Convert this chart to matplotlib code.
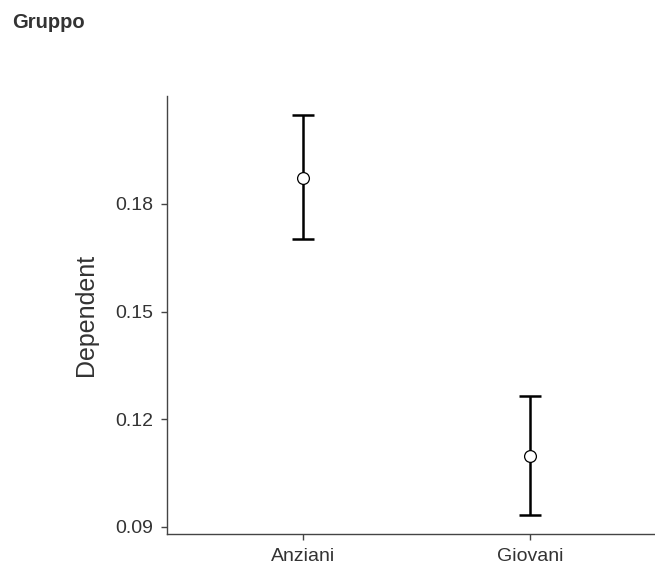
import numpy as np
import matplotlib.pyplot as plt

plt.rcParams['font.family'] = ['Liberation Sans', 'DejaVu Sans']

# group means with 95% CI bounds
groups = ['Anziani', 'Giovani']
means = [0.1873, 0.1098]
ci_low = [0.1703, 0.0933]
ci_high = [0.2047, 0.1264]
yticks = [0.09, 0.12, 0.15, 0.18]

fig = plt.figure(figsize=(6.55, 5.69), dpi=100)
ax = fig.add_axes([0.255, 0.0615, 0.745, 0.770])

x = np.arange(1, len(groups) + 1)
m = np.array(means)
yerr = np.array([m - np.array(ci_low), np.array(ci_high) - m])

ax.errorbar(x, m, yerr=yerr, fmt='none', ecolor='black', elinewidth=1.8,
            capsize=8, capthick=1.8, zorder=2)
ax.plot(x, m, 'o', markersize=8.5, markerfacecolor='white',
        markeredgecolor='black', markeredgewidth=0.9, zorder=3)

ax.set_xlim(0.4, 2.55)
ax.set_ylim(0.088, 0.2101)
ax.set_xticks(x)
ax.set_xticklabels(groups)
ax.set_yticks(yticks)
ax.set_yticklabels(['%.2f' % v for v in yticks])

for side in ['top', 'right']:
    ax.spines[side].set_visible(False)
for side in ['left', 'bottom']:
    ax.spines[side].set_color('#444444')
    ax.spines[side].set_linewidth(1.0)

ax.tick_params(axis='both', colors='#444444', length=4, width=1.0,
               labelsize=14, labelcolor='#333333', pad=6)
ax.set_ylabel('Dependent', fontsize=18, color='#333333', labelpad=12)

fig.text(0.018, 0.961, 'Gruppo', fontsize=14.5, fontweight='bold',
         color='#333333', va='center', ha='left')

fig.savefig('out.png', dpi=100)
